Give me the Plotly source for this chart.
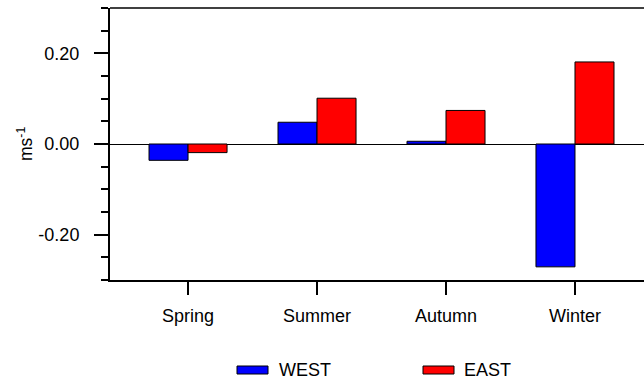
import plotly.graph_objects as go

seasons = ["Spring", "Summer", "Autumn", "Winter"]
west_name = "WEST"
east_name = "EAST"
west = [-0.036, 0.048, 0.006, -0.271]
east = [-0.019, 0.101, 0.074, 0.181]
ytick_vals = [-0.2, 0.0, 0.2]
ytick_text = ["-0.20", "0.00", "0.20"]

FONT = "Liberation Sans, Arial, Helvetica, sans-serif"
FS = 18
L, T, R, B = 110, 8, 0, 102
W, H = 644, 382
pw, ph = W - L - R, H - T - B

fig = go.Figure()
fig.add_trace(go.Bar(x=seasons, y=west, name=west_name,
                     marker=dict(color="#0000ff", line=dict(color="black", width=1))))
fig.add_trace(go.Bar(x=seasons, y=east, name=east_name,
                     marker=dict(color="#ff0000", line=dict(color="black", width=1))))

def px_x(x):
    return (x - L) / pw

def px_y(y):
    return (T + ph - y) / ph

# top border (thin)
shapes = [dict(type="line", xref="paper", yref="paper", x0=0, x1=1, y0=1, y1=1,
               line=dict(color="black", width=1.3))]
annotations = [dict(text="ms<sup>-1</sup>", xref="paper", yref="paper",
                    x=px_x(25), y=px_y(144), textangle=-90, showarrow=False,
                    xanchor="center", yanchor="middle",
                    font=dict(family=FONT, size=17.5, color="black"))]
# custom legend
leg = [(west_name, "#0000ff", 237, 277), (east_name, "#ff0000", 423, 462)]
for name, col, x0, tx in leg:
    shapes.append(dict(type="rect", xref="paper", yref="paper",
                       x0=px_x(x0), x1=px_x(x0 + 31), y0=px_y(366), y1=px_y(374),
                       fillcolor=col, line=dict(color="black", width=1)))
    annotations.append(dict(text=name, xref="paper", yref="paper", x=px_x(tx), y=px_y(370),
                            xanchor="left", yanchor="middle", showarrow=False,
                            font=dict(family=FONT, size=FS, color="black")))

fig.update_layout(
    width=W, height=H, margin=dict(l=L, r=R, t=T, b=B),
    paper_bgcolor="white", plot_bgcolor="white",
    barmode="group", bargap=0.395, bargroupgap=0,
    showlegend=False,
    font=dict(family=FONT, size=FS, color="black"),
    shapes=shapes, annotations=annotations,
    xaxis=dict(range=[-0.605, 3.535], showline=True, linecolor="black", linewidth=2,
               ticks="outside", ticklen=13, tickwidth=1.5, tickcolor="black",
               showgrid=False, zeroline=False, ticklabelstandoff=5,
               tickfont=dict(family=FONT, size=FS, color="black")),
    yaxis=dict(range=[-0.3, 0.3], showline=True, linecolor="black", linewidth=2,
               tickmode="array", tickvals=ytick_vals, ticktext=ytick_text,
               ticks="outside", ticklen=14, tickwidth=1.5, tickcolor="black",
               minor=dict(dtick=0.05, tick0=0, ticks="outside", ticklen=7,
                          tickwidth=1.5, tickcolor="black", showgrid=False),
               showgrid=False, zeroline=True, zerolinecolor="black", zerolinewidth=1,
               ticklabelstandoff=11,
               tickfont=dict(family=FONT, size=FS, color="black")),
)

fig.write_html("out.html", config={"displayModeBar": False},
               post_script="document.body.style.margin='0';document.body.style.overflow='hidden';")
